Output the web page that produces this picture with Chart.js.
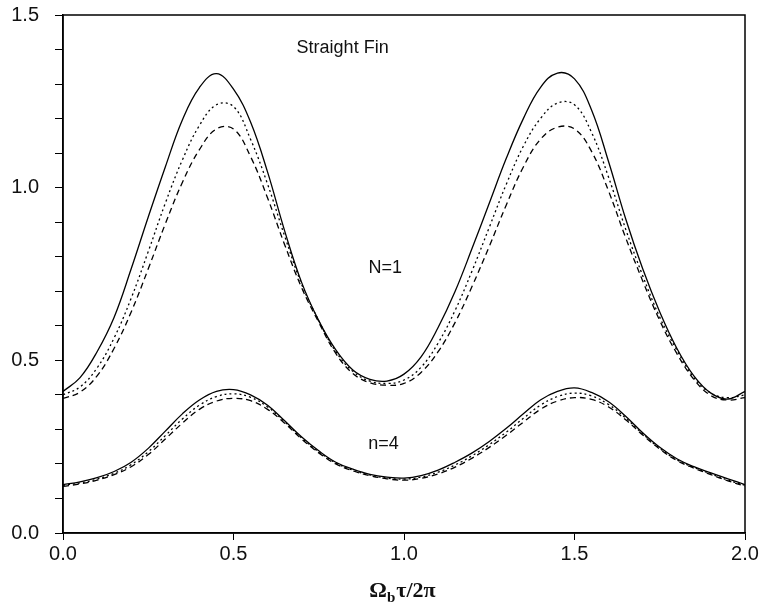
<!DOCTYPE html>
<html>
<head>
<meta charset="utf-8">
<script src="https://cdn.jsdelivr.net/npm/chart.js@4/dist/chart.umd.min.js"></script>
<style>
  html, body { margin: 0; padding: 0; background: #fff; }
  #wrap { width: 763px; height: 612px; }
</style>
</head>
<body>
<div id="wrap"><canvas id="chart" width="763" height="612"></canvas></div>
<script>
// x positions, Omega_b tau / 2pi
const tau = [0.00, 0.05, 0.10, 0.15, 0.20, 0.25, 0.30, 0.35, 0.40, 0.45,
             0.50, 0.55, 0.60, 0.65, 0.70, 0.75, 0.80, 0.85, 0.90, 0.95,
             1.00, 1.05, 1.10, 1.15, 1.20, 1.25, 1.30, 1.35, 1.40, 1.45,
             1.50, 1.55, 1.60, 1.65, 1.70, 1.75, 1.80, 1.85, 1.90, 1.95, 2.00];

// N=1 group
const n1Solid = [0.41, 0.45, 0.525, 0.625, 0.765, 0.915, 1.06, 1.196, 1.29, 1.33,
                 1.285, 1.19, 1.045, 0.875, 0.725, 0.615, 0.53, 0.472, 0.445, 0.44,
                 0.46, 0.51, 0.595, 0.70, 0.825, 0.955, 1.085, 1.20, 1.29, 1.332,
                 1.315, 1.225, 1.075, 0.91, 0.765, 0.64, 0.535, 0.455, 0.405, 0.388, 0.41];
const n1Dotted = [0.40, 0.423, 0.478, 0.565, 0.68, 0.815, 0.955, 1.08, 1.18, 1.24,
                  1.235, 1.14, 1.01, 0.86, 0.72, 0.615, 0.525, 0.468, 0.44, 0.433,
                  0.443, 0.48, 0.55, 0.645, 0.76, 0.885, 1.01, 1.12, 1.20, 1.245,
                  1.24, 1.16, 1.03, 0.88, 0.745, 0.625, 0.53, 0.45, 0.405, 0.392, 0.40];
const n1Dashed = [0.39, 0.408, 0.455, 0.535, 0.64, 0.765, 0.895, 1.015, 1.11, 1.17,
                  1.17, 1.09, 0.97, 0.835, 0.71, 0.61, 0.52, 0.462, 0.435, 0.428,
                  0.433, 0.465, 0.525, 0.61, 0.715, 0.83, 0.95, 1.06, 1.14, 1.175,
                  1.17, 1.105, 0.99, 0.855, 0.73, 0.615, 0.52, 0.445, 0.398, 0.385, 0.392];

// n=4 group
const n4Solid = [0.14, 0.148, 0.16, 0.178, 0.205, 0.245, 0.295, 0.345, 0.385, 0.41,
                 0.415, 0.40, 0.37, 0.325, 0.278, 0.238, 0.205, 0.185, 0.17, 0.162,
                 0.159, 0.166, 0.182, 0.205, 0.232, 0.265, 0.303, 0.345, 0.385, 0.41,
                 0.42, 0.407, 0.38, 0.338, 0.29, 0.248, 0.215, 0.192, 0.174, 0.157, 0.14];
const n4Dotted = [0.138, 0.145, 0.156, 0.173, 0.198, 0.235, 0.282, 0.33, 0.37, 0.395,
                  0.403, 0.393, 0.365, 0.322, 0.275, 0.235, 0.203, 0.182, 0.168, 0.159,
                  0.156, 0.162, 0.176, 0.197, 0.224, 0.256, 0.292, 0.332, 0.37, 0.395,
                  0.405, 0.397, 0.372, 0.333, 0.287, 0.245, 0.212, 0.19, 0.171, 0.153, 0.138];
const n4Dashed = [0.135, 0.142, 0.153, 0.169, 0.192, 0.227, 0.272, 0.318, 0.358, 0.382,
                  0.39, 0.383, 0.358, 0.318, 0.272, 0.232, 0.20, 0.18, 0.166, 0.157,
                  0.153, 0.158, 0.171, 0.191, 0.217, 0.248, 0.283, 0.321, 0.358, 0.382,
                  0.392, 0.387, 0.365, 0.328, 0.284, 0.243, 0.21, 0.188, 0.169, 0.151, 0.136];

const yTicks = [0.0, 0.5, 1.0, 1.5];
const xTicks = [0.0, 0.5, 1.0, 1.5, 2.0];

// text labels placed in data coordinates
const notes = [
    { text: 'Straight Fin', x: 0.82, y: 1.405 },
    { text: 'N=1', x: 0.945, y: 0.767 },
    { text: 'n=4', x: 0.94, y: 0.258 }
];

const pts = ys => tau.map((t, i) => ({ x: t, y: ys[i] }));

function line(label, ys, dash) {
    return {
        label: label,
        data: pts(ys),
        borderColor: '#000',
        borderWidth: 1.3,
        borderDash: dash,
        pointRadius: 0,
        fill: false,
        tension: 0.4
    };
}

const decor = {
    id: 'decor',
    afterDraw(chart) {
        const ctx = chart.ctx;
        const a = chart.chartArea;
        const xs = chart.scales.x, ys = chart.scales.y;
        ctx.save();
        // frame
        ctx.strokeStyle = '#000';
        ctx.lineWidth = 1.5;
        ctx.strokeRect(a.left, a.top, a.right - a.left, a.bottom - a.top);
        // notes
        ctx.fillStyle = '#111';
        ctx.font = '18px "Liberation Sans", Arial, sans-serif';
        ctx.textAlign = 'center';
        ctx.textBaseline = 'middle';
        notes.forEach(n => ctx.fillText(n.text, xs.getPixelForValue(n.x), ys.getPixelForValue(n.y)));
        // axis title with subscript
        const cx = (a.left + a.right) / 2 - 2;
        const ty = 597;
        const big = 'bold 22px "Liberation Serif", "Times New Roman", serif';
        const small = 'bold 15px "Liberation Serif", "Times New Roman", serif';
        ctx.textAlign = 'left';
        ctx.textBaseline = 'alphabetic';
        const p1 = '\u03A9', p2 = 'b', p3 = '\u03C4/2\u03C0';
        ctx.font = big;
        const w1 = ctx.measureText(p1).width;
        const w3 = ctx.measureText(p3).width;
        ctx.font = small;
        const w2 = ctx.measureText(p2).width;
        let sx = cx - (w1 + w2 + w3) / 2;
        ctx.font = big;
        ctx.fillText(p1, sx, ty);
        ctx.font = small;
        ctx.fillText(p2, sx + w1, ty + 5);
        ctx.font = big;
        ctx.fillText(p3, sx + w1 + w2 + 1, ty);
        ctx.restore();
    }
};

const ctx = document.getElementById('chart').getContext('2d');
new Chart(ctx, {
    type: 'line',
    data: {
        datasets: [
            line('N=1 solid', n1Solid, []),
            line('N=1 dotted', n1Dotted, [2, 3]),
            line('N=1 dashed', n1Dashed, [6, 4]),
            line('n=4 solid', n4Solid, []),
            line('n=4 dotted', n4Dotted, [2, 3]),
            line('n=4 dashed', n4Dashed, [6, 4])
        ]
    },
    options: {
        responsive: false,
        animation: false,
        layout: { padding: { top: 15, right: 18, left: 0, bottom: 0 } },
        plugins: {
            legend: { display: false },
            tooltip: { enabled: false }
        },
        scales: {
            x: {
                type: 'linear',
                min: 0,
                max: 2,
                afterFit: s => { s.height = 79; },
                afterBuildTicks: s => { s.ticks = xTicks.map(v => ({ value: v })); },
                border: { color: '#000', width: 1.5 },
                grid: { drawOnChartArea: false, tickLength: 7, color: '#000' },
                ticks: {
                    color: '#111',
                    padding: 2,
                    font: { size: 20, family: '"Liberation Sans", Arial, sans-serif' },
                    callback: v => v.toFixed(1)
                }
            },
            y: {
                min: 0,
                max: 1.5,
                afterFit: s => { s.width = 63; s.paddingTop = 0; s.paddingBottom = 0; },
                ticks: {
                    stepSize: 0.1,
                    color: '#111',
                    padding: 16,
                    font: { size: 20, family: '"Liberation Sans", Arial, sans-serif' },
                    callback: v => {
                        const hit = yTicks.find(t => Math.abs(t - v) < 1e-6);
                        return hit === undefined ? '' : hit.toFixed(1);
                    }
                },
                border: { color: '#000', width: 1.5 },
                grid: { drawOnChartArea: false, tickLength: 8, color: '#000' }
            }
        }
    },
    plugins: [decor]
});
</script>
</body>
</html>
